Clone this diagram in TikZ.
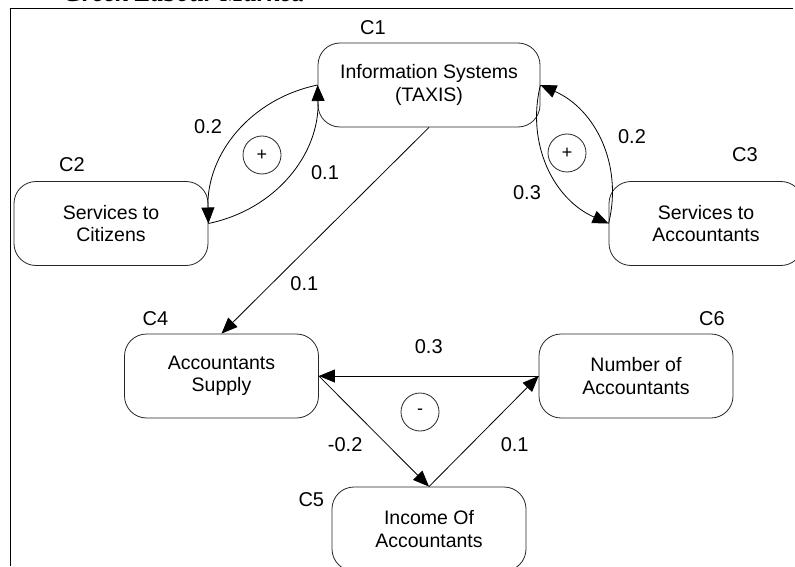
\documentclass[tikz,border=0pt]{standalone}
\usepackage{fontspec}
\setmainfont{Liberation Sans}
\newfontfamily\titlefont{Liberation Serif}
\usetikzlibrary{positioning, arrows.meta}

\begin{document}
\begin{tikzpicture}
    [
        x=1pt, y=1pt, on grid, label distance=4pt,
        >={Triangle[length=16pt, width=13pt]},
        concept_node/.style={rectangle, rounded corners=22pt, draw=black!85, line width=0.8pt, minimum width=194pt, minimum height=84pt, align=center, font=\fontsize{19.5}{22.5}\selectfont},
        sign_node/.style={circle, draw=black!85, line width=0.8pt, minimum size=38pt, inner sep=0pt, font=\fontsize{18}{18}\selectfont},
        weight/.style={font=\fontsize{20}{20}\selectfont},
        tag/.style={font=\fontsize{20}{20}\selectfont},
    ]
        \useasboundingbox (0,0) rectangle (795,566);
        \node[anchor=base west, font=\titlefont\bfseries\itshape\fontsize{26}{26}\selectfont] (title) at (60,564) {Greek Labour Market.};
        \draw[line width=0.8pt] (10,0) -- (10,558) -- (793,558);
        \node[concept_node, minimum width=222pt, label={[tag, xshift=-56pt]above:C1}] (c1) at (429,481) {Information Systems\\(TAXIS)};
        \node[concept_node, label={[tag, xshift=-39pt, yshift=2pt]above:C2}] (c2) [below left = 138.5pt and 318pt of c1] {Services to\\Citizens};
        \node[concept_node, label={[tag, xshift=39pt, yshift=12pt]above:C3}] (c3) [below right = 138.5pt and 277pt of c1] {Services to\\Accountants};
        \node[concept_node, label={[tag, xshift=-66pt]above:C4}] (c4) [below right = 152.5pt and 110.5pt of c2] {Accountants\\Supply};
        \node[concept_node, label={[tag, xshift=76pt]above:C6}] (c6) [right = 414.5pt of c4] {Number of\\Accountants};
        \node[concept_node, label={[tag, yshift=29pt]left:C5}] (c5) [below right = 153pt and 207.5pt of c4] {Income Of\\Accountants};
        \node[sign_node] (loop1) at (262,411) {+};
        \node[sign_node] (loop2) at (567,413) {+};
        \node[sign_node] (loop3) at (420,154) {-};
        \draw[->, line width=0.8pt, color=black] (c1.south) -- node[weight, pos=0.76, xshift=33pt] (w14) {0.1} (c4.north);
        \draw[->, line width=0.8pt, color=black] (c1.west) to[bend right=40] (c2.east);
        \draw[->, line width=0.8pt, color=black] (c2.east) to[bend right=40] (c1.west);
        \draw[->, line width=0.8pt, color=black] (c1.east) to[bend right=40] (c3.west);
        \draw[->, line width=0.8pt, color=black] (c3.west) to[bend right=40] (c1.east);
        \node[weight] (w12) at (208,439) {0.2};
        \node[weight] (w21) at (325,393) {0.1};
        \node[weight] (w31) at (632,429) {0.2};
        \node[weight] (w13) at (527,373) {0.3};
        \draw[->, line width=0.8pt, color=black] (c6.west) -- node[weight, yshift=29pt] (w64) {0.3} (c4.east);
        \draw[->, line width=0.8pt, color=black] (c4.east) -- node[weight, pos=0.62, xshift=-42pt] (w45) {-0.2} (c5.north);
        \draw[->, line width=0.8pt, color=black] (c5.north) -- node[weight, pos=0.38, xshift=44pt] (w56) {0.1} (c6.west);
    \end{tikzpicture}
\end{document}
